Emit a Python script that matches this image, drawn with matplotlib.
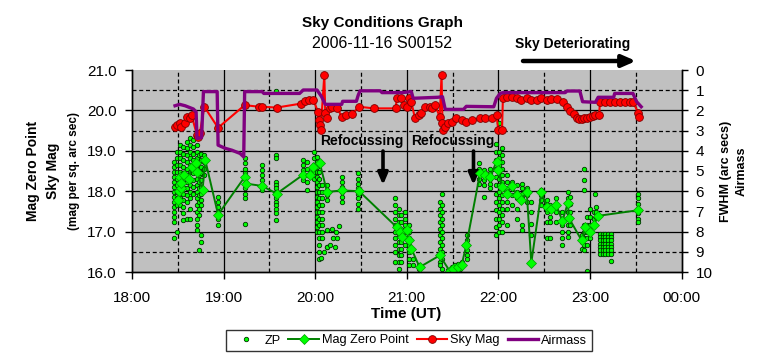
import matplotlib
matplotlib.use("Agg")
import matplotlib.pyplot as plt
from matplotlib.ticker import FuncFormatter, FixedLocator

plt.rcParams['font.family'] = ['Liberation Sans', 'DejaVu Sans']

# ---------------- data (time in decimal hours UT) ----------------
# ZP scatter: columns of individual zero-point measurements
zp_col_times = [18.46, 18.49, 18.52, 18.56, 18.60, 18.63, 18.67, 18.71, 18.73, 18.75, 18.79,
                18.94, 19.23,
                19.42, 19.57, 19.87, 19.91, 19.99, 20.02, 20.04, 20.07, 20.13, 20.29, 20.47,
                20.87, 20.91, 20.94, 20.98, 21.02, 21.07, 21.13, 21.36, 21.39, 21.66,
                21.79, 21.84, 21.91, 21.97, 22.01,
                22.04, 22.09, 22.15, 22.20, 22.26, 22.31, 22.36, 22.47, 22.53, 22.56, 22.63,
                22.70, 22.76, 22.78, 22.91, 22.93, 22.97, 23.00, 23.04, 23.07, 23.06,
                23.11, 23.14, 23.17, 23.20, 23.23, 23.53]
zp_col_values = [
    [18.73, 18.60, 18.48, 18.36, 18.23, 18.11, 17.98, 17.86, 17.73, 17.61, 17.49, 17.36, 17.24, 16.83],
    [18.96, 18.81, 18.64, 18.48, 18.31, 18.15, 17.98, 17.82, 17.65, 17.00],
    [19.14, 18.98, 18.81, 18.64, 18.48, 18.31, 18.15, 17.98, 17.82, 17.65],
    [19.10, 18.93, 18.77, 18.60, 18.44, 18.27, 18.11, 17.94, 17.78, 17.61, 17.45, 17.28],
    [19.22, 19.06, 18.89, 18.73, 18.56, 18.40, 18.23, 18.07, 17.90, 17.74, 17.30],
    [19.31, 19.14, 18.98, 18.81, 18.64, 18.48, 18.31, 18.15, 17.98, 17.82, 17.57, 17.32],
    [19.27, 19.10, 18.93, 18.77, 18.60, 18.44, 18.27, 18.11, 17.94],
    [19.14, 18.98, 18.81, 18.64, 18.48, 18.31, 18.15, 17.98, 17.82, 17.65, 17.49, 17.32, 17.16, 17.03],
    [18.89, 18.73, 18.56, 18.40, 18.23, 18.07, 17.90, 17.74, 17.57, 17.41, 16.54],
    [18.93, 18.77, 18.60, 18.44, 18.27, 18.11, 17.94, 17.78, 17.65, 16.91, 16.74],
    [18.89, 18.73, 18.56, 18.40],
    [17.86, 17.74, 17.61, 17.49, 17.32, 17.16],
    [18.81, 18.69, 18.56, 18.44, 18.31, 18.19, 18.07, 17.94, 17.82, 17.20],
    [18.64, 18.52, 18.40, 18.27, 18.15, 18.02],
    [20.49, 18.89, 18.81, 18.23, 18.15, 18.07, 17.98, 17.90, 17.82, 17.74, 17.65, 17.57, 17.45, 17.28],
    [18.77, 18.64, 18.52, 18.40, 18.27],
    [18.73, 18.56, 18.40, 18.23, 18.02],
    [18.96, 18.81, 18.64, 18.48, 18.31],
    [18.85, 18.73, 18.60, 18.48, 18.36, 18.23, 18.11, 17.98, 17.86, 17.74, 17.61, 17.49, 17.36, 17.24, 17.11, 16.99],
    [18.64, 18.48, 18.31, 18.15, 17.98, 17.82, 17.65, 17.49, 17.32, 17.16, 16.99, 16.83, 16.66, 16.50, 16.33],
    [18.15, 17.98, 17.82, 17.65, 17.49, 17.32, 17.16, 16.99, 16.83],
    [18.15, 18.02, 17.90, 17.78, 17.03, 16.62],
    [18.36, 18.23, 18.11, 17.98, 17.86, 17.74],
    [18.44, 18.31, 18.19, 18.07, 17.94, 17.82, 17.69, 17.57],
    [17.82, 17.65, 17.49, 17.32, 17.16, 16.99, 16.83, 16.66, 16.50, 16.25],
    [17.57, 17.41, 17.24, 17.07, 16.91, 16.74, 16.58, 16.41, 16.25, 16.08],
    [17.41, 17.24, 17.07, 16.91, 16.74, 16.58, 16.41, 16.25],
    [17.49, 17.32, 17.16, 16.99, 16.83, 16.66],
    [17.16, 16.99, 16.83, 16.66, 16.50, 16.33, 16.17],
    [16.33, 16.17],
    [16.17, 16.08],
    [17.74, 17.57, 17.41, 17.24, 17.07, 16.91, 16.74, 16.58, 16.41, 16.25, 16.17],
    [17.94, 17.65, 17.49, 17.32, 17.16, 16.99, 16.83, 16.66, 16.50, 16.33, 16.08],
    [16.91, 16.78, 16.66, 16.54, 16.41, 16.33],
    [18.69, 18.56, 18.44, 18.31, 18.19],
    [18.52, 18.40, 18.27, 18.15, 17.86],
    [18.56, 18.44, 18.31, 18.19, 18.07],
    [19.18, 18.98, 18.77, 18.56, 18.36, 18.15, 17.94, 17.74, 17.53, 17.32, 17.11, 16.91],
    [19.68, 18.98, 18.81, 18.64, 18.48, 18.31, 18.15, 17.98, 17.82, 17.65, 17.49, 17.32, 17.16, 16.99],
    [19.06, 18.89, 18.73, 18.56, 18.40, 18.23, 18.07, 17.90, 17.74, 17.57, 17.41, 17.24, 16.99],
    [18.40, 18.23, 18.07, 17.90, 17.74, 17.57, 17.16],
    [18.23, 18.07, 17.90, 17.65],
    [18.15, 17.98, 17.82, 17.57, 17.32],
    [18.19, 18.07, 17.94, 17.82, 17.16, 17.03],
    [18.07, 17.90, 17.74],
    [17.74, 17.49, 17.20, 16.91],
    [18.02, 17.90, 17.78, 17.65],
    [17.78, 17.65, 17.49, 17.24, 16.83],
    [17.65, 17.53, 17.36, 17.24, 16.83],
    [17.82, 17.65, 17.49, 17.24],
    [17.49, 17.32, 17.16, 16.99, 16.83, 16.66],
    [17.98, 17.82, 17.65, 17.49, 17.32, 17.16, 16.99, 16.87],
    [17.86, 17.69, 17.49, 17.32, 17.16],
    [16.91, 16.74, 16.58],
    [18.56, 18.27, 18.02, 17.16, 16.99, 16.83, 16.66, 16.54],
    [17.36, 17.16, 16.99, 16.83, 16.66, 16.02],
    [17.57, 17.36, 17.16, 16.99, 16.83],
    [17.49, 17.32, 17.16],
    [17.61, 17.49, 17.36],
    [17.92],
    [16.95, 16.87, 16.79, 16.70, 16.62, 16.54, 16.45],
    [16.95, 16.87, 16.79, 16.70, 16.62, 16.54, 16.45],
    [16.95, 16.87, 16.79, 16.70, 16.62, 16.54, 16.45],
    [16.95, 16.87, 16.79, 16.70, 16.62, 16.54, 16.45],
    [16.95, 16.87, 16.79, 16.70, 16.62, 16.54, 16.45, 16.26],
    [17.94, 17.82, 17.69, 17.57, 17.45, 17.32, 17.24],
]
# extra scattered ZP points
zp_extra_time = [20.10, 20.06, 20.13, 20.16, 20.18, 20.20, 20.22, 20.23, 20.24, 20.26,
                 21.45, 21.49, 21.51, 21.53, 21.56, 21.58, 21.60]
zp_extra_mag = [16.50, 16.35, 16.62, 16.66, 17.07, 16.83, 16.62, 16.99, 16.83, 17.13,
                16.04, 16.12, 16.04, 16.17, 16.21, 16.08, 16.25]

# Mag Zero Point (averaged, connected)
mzp_time = [18.50, 18.51, 18.52, 18.53, 18.54, 18.57, 18.62, 18.65, 18.70, 18.71, 18.77, 18.80,
            18.94, 19.23, 19.24, 19.42, 19.58, 19.87, 19.94, 19.98, 20.05, 20.13, 20.29, 20.48,
            20.89, 20.93, 20.95, 21.00, 21.02, 21.05, 21.14, 21.36, 21.47, 21.51, 21.56, 21.60,
            21.65, 21.80, 21.85, 21.91, 21.98, 22.00, 22.04, 22.09, 22.15, 22.20, 22.25, 22.31,
            22.36, 22.47, 22.53, 22.58, 22.63, 22.70, 22.76, 22.77, 22.91, 22.95, 23.00, 23.04,
            23.09, 23.53]
mzp_val = [17.78, 18.00, 18.35, 18.07, 18.21, 18.40, 18.31, 18.60, 18.69, 18.48, 18.02, 18.77,
           17.42, 18.35, 18.19, 18.13, 17.94, 18.41, 18.41, 18.60, 18.70, 17.98, 18.02, 18.00,
           17.11, 16.99, 16.87, 17.03, 16.78, 16.58, 16.12, 16.41, 16.02, 16.08, 16.12, 16.18,
           16.66, 18.44, 18.40, 18.35, 18.73, 18.52, 18.11, 17.94, 18.13, 17.90, 17.78, 17.98,
           16.23, 17.97, 17.61, 17.57, 17.67, 17.26, 17.72, 17.34, 16.78, 17.11, 16.99, 17.16,
           17.39, 17.53]

# Sky Mag
sky_time = [18.47, 18.49, 18.52, 18.54, 18.58, 18.60, 18.63, 18.65, 18.71, 18.72, 18.74, 18.79,
            18.94, 19.23, 19.39, 19.42, 19.58, 19.85, 19.89, 19.93, 19.98, 20.03, 20.04, 20.05,
            20.06, 20.10, 20.11, 20.13, 20.16, 20.18, 20.24, 20.29, 20.34, 20.40, 20.48, 20.64,
            20.88, 20.89, 20.94, 20.97, 21.00, 21.02, 21.05, 21.09, 21.13, 21.16, 21.20, 21.25,
            21.28, 21.31, 21.36, 21.38, 21.39, 21.40, 21.42, 21.45, 21.49, 21.54, 21.60, 21.65,
            21.71, 21.80, 21.85, 21.93, 21.98, 22.00, 22.04, 22.05, 22.09, 22.15, 22.20, 22.25,
            22.31, 22.36, 22.42, 22.47, 22.53, 22.58, 22.64, 22.71, 22.75, 22.78, 22.83, 22.86,
            22.88, 22.91, 22.94, 22.97, 23.00, 23.03, 23.06, 23.10, 23.11, 23.16, 23.22, 23.27,
            23.33, 23.38, 23.44, 23.47, 23.53, 23.54]
sky_val = [19.59, 19.65, 19.70, 19.59, 19.68, 19.84, 19.82, 19.88, 19.39, 19.35, 19.43, 20.09,
           19.57, 20.13, 20.09, 20.09, 20.07, 20.17, 20.23, 20.26, 20.26, 19.97, 19.76, 19.64,
           19.51, 20.88, 19.93, 19.80, 20.05, 20.09, 20.07, 19.84, 19.88, 19.90, 20.09, 20.05,
           20.05, 20.30, 20.31, 20.13, 20.09, 20.30, 20.21, 19.80, 19.88, 19.93, 20.09, 20.09,
           20.05, 20.13, 19.84, 20.88, 19.68, 19.51, 19.60, 19.68, 19.72, 19.80, 19.76, 19.72,
           19.76, 19.80, 19.80, 19.82, 19.88, 19.51, 19.51, 20.30, 20.32, 20.32, 20.31, 20.26,
           20.30, 20.26, 20.26, 20.30, 20.26, 20.28, 20.28, 20.20, 20.09, 19.98, 19.90, 19.81,
           19.79, 19.79, 19.80, 19.82, 19.84, 19.86, 19.88, 19.88, 20.21, 20.21, 20.20, 20.21,
           20.21, 20.21, 20.21, 20.21, 19.93, 19.84]

# Airmass (secondary axis)
air_time = [18.47, 18.52, 18.58, 18.67, 18.70, 18.71, 18.76, 18.78, 18.93, 18.94, 19.02, 19.09,
            19.18, 19.22, 19.23, 19.42, 19.44, 19.83, 19.87, 20.02, 20.07, 20.11, 20.29, 20.30,
            20.45, 20.47, 20.49, 20.71, 20.73, 20.95, 21.05, 21.07, 21.34, 21.39, 21.42, 21.62,
            21.65, 21.95, 21.98, 22.02, 22.05, 22.73, 22.75, 22.89, 22.92, 23.06, 23.09, 23.26,
            23.27, 23.47, 23.51, 23.56]
air_val = [1.77, 1.70, 1.77, 1.93, 2.07, 3.39, 3.35, 1.07, 1.07, 3.72, 3.88, 3.97,
           4.13, 4.30, 1.07, 1.07, 1.16, 1.16, 0.99, 0.99, 1.32, 1.70, 1.70, 1.55,
           1.55, 1.25, 1.03, 1.03, 1.12, 1.12, 1.07, 1.40, 1.35, 1.32, 1.95, 1.95,
           1.80, 1.82, 1.40, 1.16, 1.12, 1.12, 1.04, 1.04, 1.57, 1.60, 1.35, 1.35,
           1.16, 1.16, 1.57, 1.82]

left_ticks = [16.0, 17.0, 18.0, 19.0, 20.0, 21.0]
right_ticks = [0, 1, 2, 3, 4, 5, 6, 7, 8, 9, 10]
hour_ticks = [18, 19, 20, 21, 22, 23, 24]

# ---------------- figure ----------------
W, H = 764, 357
fig = plt.figure(figsize=(W / 100, H / 100), dpi=100)
fig.patch.set_facecolor('white')
L, R, T, B = 132, 681.5, 70, 272
ax = fig.add_axes([L / W, 1 - B / H, (R - L) / W, (B - T) / H])
ax.set_facecolor('#C0C0C0')
ax.set_xlim(18, 24)
ax.set_ylim(16, 21)

# grid lines
for h in [19, 20, 21, 22, 23]:
    ax.axvline(h, color='black', lw=0.9, zorder=1)
for h in [18.5, 19.5, 20.5, 21.5, 22.5, 23.5]:
    ax.axvline(h, color='black', lw=0.9, ls=(0, (3.2, 2.2)), zorder=1)
for m in [17, 18, 19, 20]:
    ax.axhline(m, color='black', lw=0.9, zorder=1)
for m in [16.5, 17.5, 18.5, 19.5, 20.5]:
    ax.axhline(m, color='black', lw=0.9, ls=(0, (3.2, 2.2)), zorder=1)

zp_x, zp_y = [], []
for t, vals in zip(zp_col_times, zp_col_values):
    zp_x += [t] * len(vals)
    zp_y += vals
zp_x += zp_extra_time
zp_y += zp_extra_mag

h_zp, = ax.plot(zp_x, zp_y, ls='none', marker='o', ms=3.2, mfc='#00FF00', mec='#003300',
                mew=0.6, label='ZP', zorder=3)
h_mzp, = ax.plot(mzp_time, mzp_val, color='#008000', lw=1.4, marker='D', ms=5.2,
                 mfc='#00FF00', mec='#00A000', mew=0.5, label='Mag Zero Point', zorder=4)
h_sky, = ax.plot(sky_time, sky_val, color='#FF0000', lw=1.5, marker='o', ms=5.6,
                 mfc='#FF0000', mec='#800000', mew=0.6, label='Sky Mag', zorder=5)

ax2 = ax.twinx()
ax2.set_ylim(10, 0)
h_air, = ax2.plot(air_time, air_val, color='#800080', lw=2.4, label='Airmass', zorder=6)

# axes styling
for a in (ax, ax2):
    a.spines['top'].set_visible(False)
    for s in ('left', 'right', 'bottom'):
        a.spines[s].set_color('black')
        a.spines[s].set_linewidth(1.0)

ax.xaxis.set_major_locator(FixedLocator(hour_ticks))
ax.xaxis.set_major_formatter(FuncFormatter(lambda v, p: '%02d:00' % (int(round(v)) % 24)))
ax.yaxis.set_major_locator(FixedLocator(left_ticks))
ax.yaxis.set_major_formatter(FuncFormatter(lambda v, p: '%.1f' % v))
ax.tick_params(axis='x', direction='out', length=5, width=1, labelsize=11, pad=9)
ax.tick_params(axis='y', direction='out', length=5, width=1, labelsize=11, pad=6)
ax2.yaxis.set_major_locator(FixedLocator(right_ticks))
ax2.yaxis.set_major_formatter(FuncFormatter(lambda v, p: '%d' % v))
ax2.tick_params(axis='y', direction='out', length=4, width=1, labelsize=11, pad=6)

# titles & axis titles
fig.text(0.5, 1 - 23 / H, 'Sky Conditions Graph', ha='center', va='center',
         fontsize=11, fontweight='bold')
fig.text(0.5, 1 - 44 / H, '2006-11-16 S00152', ha='center', va='center', fontsize=11.5)
fig.text(406 / W, 1 - 314 / H, 'Time (UT)', ha='center', va='center',
         fontsize=11, fontweight='bold')
yc = 1 - 171 / H
fig.text(33 / W, yc, 'Mag Zero Point', rotation=90, ha='center', va='center',
         fontsize=10, fontweight='bold')
fig.text(53 / W, yc, 'Sky Mag', rotation=90, ha='center', va='center',
         fontsize=10, fontweight='bold')
fig.text(74 / W, yc, '(mag per sq. arc sec)', rotation=90, ha='center', va='center',
         fontsize=8.5, fontweight='bold')
fig.text(726 / W, yc, 'FWHM (arc secs)', rotation=90, ha='center', va='center',
         fontsize=9, fontweight='bold')
fig.text(742 / W, yc, 'Airmass', rotation=90, ha='center', va='center',
         fontsize=9, fontweight='bold')

# annotations
fig.text(573 / W, 1 - 44 / H, 'Sky Deteriorating', ha='center', va='center',
         fontsize=10, fontweight='bold')
ax.annotate('', xy=(636, H - 61), xytext=(523, H - 61), xycoords='figure pixels',
            textcoords='figure pixels',
            arrowprops=dict(arrowstyle='-|>,head_length=0.8,head_width=0.35', lw=3.2,
                            color='black', shrinkA=0, shrinkB=0))
fig.text(362 / W, 1 - 141 / H, 'Refocussing', ha='center', va='center',
         fontsize=10, fontweight='bold')
fig.text(453 / W, 1 - 141 / H, 'Refocussing', ha='center', va='center',
         fontsize=10, fontweight='bold')
for xa in (383, 473.5):
    ax.annotate('', xy=(xa, H - 185), xytext=(xa, H - 151), xycoords='figure pixels',
                textcoords='figure pixels',
                arrowprops=dict(arrowstyle='-|>,head_length=0.7,head_width=0.3', lw=2.6,
                                color='black', shrinkA=0, shrinkB=0))

# legend
leg = fig.legend([h_zp, h_mzp, h_sky, h_air], ['ZP', 'Mag Zero Point', 'Sky Mag', 'Airmass'],
                 loc='center', bbox_to_anchor=(409 / W, 1 - 340.5 / H), ncol=4, fontsize=9.2,
                 handlelength=2.4, handletextpad=0.25, columnspacing=0.6, borderpad=0.35,
                 fancybox=False, frameon=True, edgecolor='black', borderaxespad=0)
leg.get_frame().set_linewidth(1.0)

fig.savefig('out.png', dpi=100, facecolor='white')
